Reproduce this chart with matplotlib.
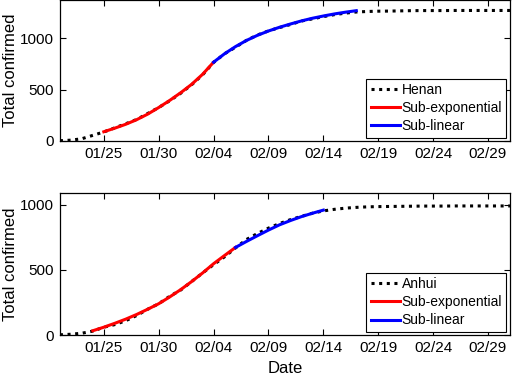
import matplotlib
matplotlib.use("Agg")
import matplotlib.pyplot as plt
import numpy as np

plt.rcParams['font.family'] = ['Liberation Sans', 'DejaVu Sans']

# Day index: 0 = 01/21
tick_days = [4, 9, 14, 19, 24, 29, 34, 39]
tick_labels = ['01/25', '01/30', '02/04', '02/09', '02/14', '02/19', '02/24', '02/29']

obs_days = list(range(0, 42))
henan_obs = [3, 8, 22, 55, 88, 128, 168, 210, 268, 326, 392, 465, 548, 645, 765,
             850, 914, 981, 1033, 1073, 1105, 1135, 1169, 1190, 1212, 1231, 1246,
             1257, 1262, 1265, 1266, 1268, 1270, 1271, 1271, 1271, 1272, 1272,
             1272, 1272, 1272, 1272]
henan_sub_exp_days = list(range(4, 15))
henan_sub_exp = [90, 125, 163, 208, 262, 326, 395, 470, 552, 650, 768]
henan_sub_lin_days = list(range(14, 28))
henan_sub_lin = [768, 850, 920, 980, 1030, 1072, 1108, 1140, 1170, 1196, 1218,
                 1238, 1255, 1270]

anhui_obs = [2, 6, 14, 30, 60, 80, 110, 150, 198, 240, 297, 345, 410, 476, 540,
             600, 668, 733, 779, 820, 855, 885, 910, 934, 952, 964, 973, 979,
             983, 985, 986, 987, 988, 989, 989, 989, 990, 990, 990, 990, 990, 990]
anhui_sub_exp_days = list(range(3, 17))
anhui_sub_exp = [33, 60, 90, 122, 158, 198, 240, 292, 348, 410, 476, 547, 610, 672]
anhui_sub_lin_days = list(range(16, 25))
anhui_sub_lin = [672, 718, 762, 805, 845, 878, 908, 934, 958]

panels = [
    ("Henan", henan_obs, henan_sub_exp_days, henan_sub_exp,
     henan_sub_lin_days, henan_sub_lin, 1374),
    ("Anhui", anhui_obs, anhui_sub_exp_days, anhui_sub_exp,
     anhui_sub_lin_days, anhui_sub_lin, 1090),
]

fig = plt.figure(figsize=(5.12, 3.79), dpi=100)
rects = [[0.117, 0.628, 0.879, 0.372], [0.117, 0.116, 0.879, 0.375]]

for i, (name, obs, ed, ev, ld, lv, ytop) in enumerate(panels):
    ax = fig.add_axes(rects[i])
    ax.plot(obs_days, obs, color='black', linestyle=(0, (1, 1.5)), lw=2.2,
            label=name, zorder=2)
    ax.plot(ed, ev, color='red', lw=2.2, label='Sub-exponential', zorder=3)
    ax.plot(ld, lv, color='blue', lw=2.2, label='Sub-linear', zorder=3)
    ax.set_xlim(0, 41)
    ax.set_ylim(0, ytop)
    ax.set_xticks(tick_days)
    ax.set_xticklabels(tick_labels)
    ax.set_yticks([0, 500, 1000])
    ax.tick_params(direction='in', length=4, width=0.8, top=True, right=True,
                   labelsize=11, pad=4.5)
    for s in ax.spines.values():
        s.set_linewidth(0.9)
        s.set_color('black')
    ax.set_ylabel('Total confirmed', fontsize=12, labelpad=1)
    leg = ax.legend(loc='lower right', fontsize=10, fancybox=False,
                    edgecolor='black', framealpha=1, handlelength=2.1,
                    handletextpad=0.15, labelspacing=0.3, borderpad=0.3,
                    borderaxespad=0.25)
    leg.get_frame().set_linewidth(0.8)
    if i == 1:
        ax.set_xlabel('Date', fontsize=12, labelpad=4)

fig.savefig('out.png', dpi=100)
